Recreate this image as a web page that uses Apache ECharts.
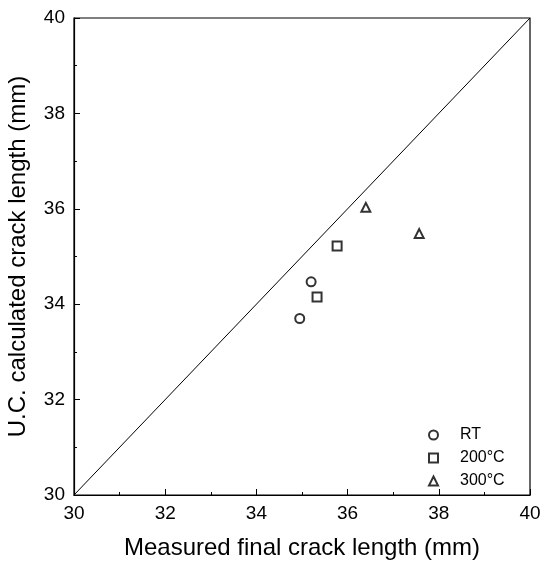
<!DOCTYPE html>
<html><head><meta charset="utf-8">
<script src="https://cdn.jsdelivr.net/npm/echarts@6/dist/echarts.min.js"></script>
<style>html,body{margin:0;padding:0;background:#fff}#c{width:541px;height:567px}</style>
</head><body><div id="c"></div>
<script>
const seriesNames = ['RT', '200°C', '300°C'];
const rtData = [[34.95, 33.7], [35.2, 34.47]];
const t200Data = [[35.33, 34.15], [35.77, 35.22]];
const t300Data = [[36.4, 36.03], [37.57, 35.48]];
const diagonal = [[30, 30], [40, 40]];
const xTicks = [30, 32, 34, 36, 38, 40];
const yTicks = [30, 32, 34, 36, 38, 40];

const font = 'Liberation Sans, Arial, sans-serif';
const chart = echarts.init(document.getElementById('c'));
const mk = (name, data, sym) => ({
  name, type: 'scatter', data, symbol: sym, symbolSize: 9,
  itemStyle: { color: '#000', borderWidth: 1.6 }
});
chart.setOption({
  animation: false,
  backgroundColor: '#fff',
  grid: { left: 74, right: 11, top: 18, bottom: 72, show: true, borderColor: '#000', borderWidth: 1.2,
          containLabel: false, outerBoundsMode: 'none' },
  xAxis: {
    type: 'value', min: xTicks[0], max: xTicks[xTicks.length - 1], interval: 2,
    name: 'Measured final crack length (mm)', nameLocation: 'middle', nameGap: 41,
    nameTextStyle: { fontFamily: font, fontSize: 24, color: '#000' },
    axisLine: { lineStyle: { color: '#000', width: 1.2 } },
    axisTick: { inside: true, length: 6, lineStyle: { color: '#000' } },
    minorTick: { show: true, splitNumber: 2, length: 3, lineStyle: { color: '#000' } },
    axisLabel: { fontFamily: font, fontSize: 19, color: '#000', margin: 9 },
    splitLine: { show: false }
  },
  yAxis: {
    type: 'value', min: yTicks[0], max: yTicks[yTicks.length - 1], interval: 2,
    name: 'U.C. calculated crack length (mm)', nameLocation: 'middle', nameGap: 44,
    nameTextStyle: { fontFamily: font, fontSize: 24, color: '#000' },
    axisLine: { lineStyle: { color: '#000', width: 1.2 } },
    axisTick: { inside: true, length: 6, lineStyle: { color: '#000' } },
    minorTick: { show: true, splitNumber: 2, length: 3, lineStyle: { color: '#000' } },
    axisLabel: { fontFamily: font, fontSize: 19, color: '#000', margin: 9 },
    splitLine: { show: false }
  },
  legend: {
    orient: 'vertical', left: 423, top: 421, itemGap: 5, itemWidth: 9, itemHeight: 9,
    textStyle: { fontFamily: font, fontSize: 16, color: '#000', lineHeight: 18, padding: [0, 0, 0, 17] },
    data: seriesNames
  },
  series: [
    { type: 'line', data: diagonal, symbol: 'none', lineStyle: { color: '#000', width: 1 }, silent: true },
    mk(seriesNames[0], rtData, 'emptyCircle'),
    mk(seriesNames[1], t200Data, 'emptyRect'),
    mk(seriesNames[2], t300Data, 'emptyTriangle')
  ]
});
</script></body></html>
